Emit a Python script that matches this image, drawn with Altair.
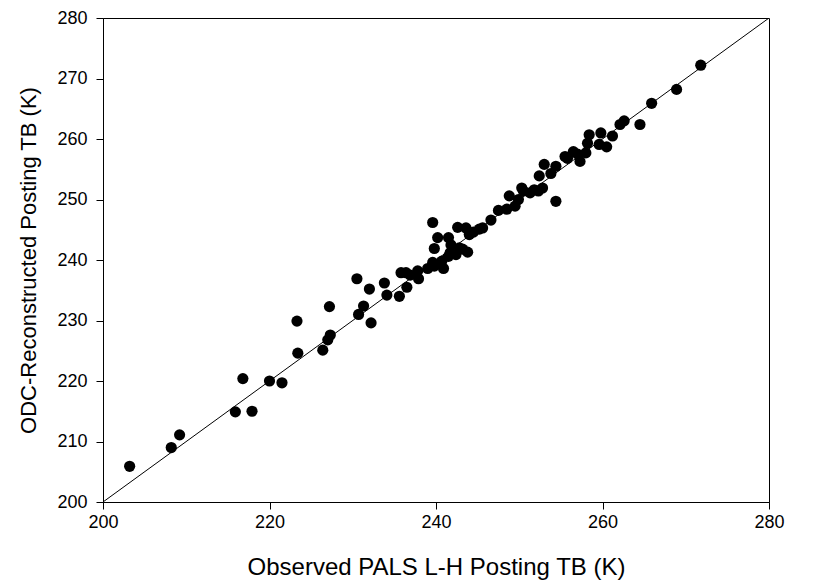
import altair as alt
import pandas as pd

observed = [203.2, 208.2, 209.2, 215.9, 216.8, 217.9, 220.0, 221.5, 223.3, 223.4,
            226.4, 227.2, 227.0, 227.3, 230.5, 230.7, 231.3, 232.0, 232.2, 233.8,
            234.1, 235.6, 236.5, 235.8, 236.4, 237.9, 237.8, 239.0, 239.8, 239.6,
            240.9, 240.7, 241.5, 241.7, 239.6, 240.2, 239.8, 241.5, 241.8, 242.6,
            243.6, 244.0, 242.8, 243.8, 243.2, 242.4, 245.2, 246.6, 247.5, 248.5,
            248.8, 249.5, 250.3, 250.5, 251.3, 252.3, 252.8, 252.4, 253.0, 253.8,
            254.4, 254.4, 255.5, 256.5, 257.3, 258.0, 258.2, 258.4, 259.6, 259.8,
            260.5, 261.2, 262.1, 262.6, 264.5, 265.9, 268.9, 271.8,
            244.5, 245.6, 236.9, 255.8, 257.0, 251.8, 249.9]
reconstructed = [205.9, 209.0, 211.1, 214.9, 220.4, 215.0, 220.0, 219.7, 229.9, 224.6,
                 225.1, 232.3, 226.8, 227.6, 236.9, 231.0, 232.4, 235.2, 229.6, 236.2,
                 234.2, 234.0, 235.5, 237.9, 237.9, 236.9, 238.2, 238.6, 239.0, 239.6,
                 238.6, 239.8, 240.6, 241.2, 246.2, 243.7, 241.9, 243.7, 242.5, 245.4,
                 245.3, 244.2, 242.0, 241.3, 241.8, 240.9, 245.1, 246.6, 248.2, 248.4,
                 250.6, 248.9, 251.9, 251.4, 251.1, 251.4, 251.9, 253.9, 255.8, 254.3,
                 249.7, 255.5, 257.1, 257.9, 256.3, 257.7, 259.3, 260.7, 259.1, 261.0,
                 258.7, 260.5, 262.4, 263.0, 262.4, 265.9, 268.2, 272.2,
                 244.6, 245.3, 237.5, 256.8, 257.5, 251.6, 250.0]
line_vals = [200, 280]

pts = pd.DataFrame({"obs": observed, "rec": reconstructed})
diag = pd.DataFrame({"obs": line_vals, "rec": line_vals})

xscale = alt.Scale(domain=[200, 280], nice=False, zero=False)
yscale = alt.Scale(domain=[200, 280], nice=False, zero=False)

xaxis = alt.Axis(title="Observed PALS L-H Posting TB (K)", values=[200, 220, 240, 260, 280],
                 grid=False, tickSize=7, labelPadding=4, titlePadding=24,
                 labelFontSize=18, titleFontSize=24, labelFont="Liberation Sans",
                 titleFont="Liberation Sans", titleFontWeight="normal",
                 labelColor="black", titleColor="black", domainColor="black",
                 tickColor="black", labelFlush=False)
yaxis = alt.Axis(title="ODC-Reconstructed Posting TB (K)",
                 values=[200, 210, 220, 230, 240, 250, 260, 270, 280],
                 grid=False, tickSize=7, labelPadding=9, titlePadding=16,
                 labelFontSize=18, titleFontSize=22, labelFont="Liberation Sans",
                 titleFont="Liberation Sans", titleFontWeight="normal",
                 labelColor="black", titleColor="black", domainColor="black",
                 tickColor="black", labelFlush=False)

line = alt.Chart(diag).mark_line(color="black", strokeWidth=1, clip=True).encode(
    x=alt.X("obs:Q", scale=xscale, axis=xaxis),
    y=alt.Y("rec:Q", scale=yscale, axis=yaxis),
)
points = alt.Chart(pts).mark_circle(color="black", size=125, opacity=1).encode(
    x=alt.X("obs:Q", scale=xscale),
    y=alt.Y("rec:Q", scale=yscale),
)

chart = (line + points).properties(
    width=666, height=484,
    autosize=alt.AutoSizeParams(type="none"),
    padding={"left": 103, "top": 18, "right": 44, "bottom": 82},
    background="white",
).configure_view(stroke="black", strokeWidth=1)

chart.save("out.html", embed_options={"renderer": "svg", "actions": False})
